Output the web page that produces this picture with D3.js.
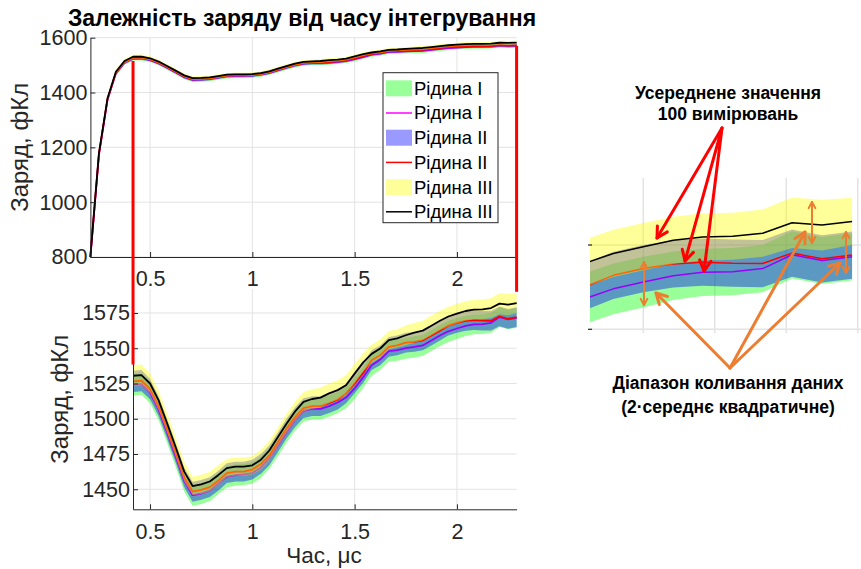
<!DOCTYPE html>
<html>
<head>
<meta charset="utf-8">
<script src="https://cdn.jsdelivr.net/npm/d3@7"></script>
<style>
  body { margin: 0; background: #fff; }
  text { font-family: "Liberation Sans", Arial, sans-serif; }
</style>
</head>
<body>
<script>
const width = 861;
const height = 569;

// integration time, μs
const time = [0.208, 0.250, 0.292, 0.333, 0.375, 0.417, 0.458, 0.500, 0.542, 0.583,
  0.625, 0.667, 0.708, 0.750, 0.792, 0.833, 0.875, 0.917, 0.958, 1.000,
  1.042, 1.083, 1.125, 1.167, 1.208, 1.250, 1.292, 1.333, 1.375, 1.417,
  1.458, 1.500, 1.542, 1.583, 1.625, 1.667, 1.708, 1.750, 1.792, 1.833,
  1.875, 1.917, 1.958, 2.000, 2.042, 2.083, 2.125, 2.167, 2.208, 2.250, 2.292];

// mean charge, fC
const meanI = [800, 1173, 1374, 1470, 1509, 1524, 1524.5, 1518.5, 1506.5, 1490.5,
  1473.5, 1456, 1445.8, 1447, 1449, 1454, 1459, 1460, 1460.5, 1461.5,
  1465.5, 1472, 1481, 1490.5, 1499, 1505.5, 1507, 1507, 1509, 1511.5,
  1515, 1521.5, 1529.5, 1538, 1542, 1548, 1548.6, 1550, 1551, 1552,
  1555.5, 1559, 1562, 1564, 1565.9, 1566.9, 1567.1, 1568, 1572.1, 1570.4, 1571.5];
const meanII = [800, 1175, 1376, 1472, 1511, 1526.5, 1527, 1521, 1509, 1493,
  1476, 1458.5, 1448.3, 1449.5, 1451.5, 1456, 1461.5, 1462.5, 1462.5, 1464,
  1468, 1474, 1483.5, 1493, 1501, 1507.5, 1509, 1509, 1511, 1513.5,
  1518, 1525, 1532.5, 1541.5, 1545, 1551, 1552, 1554, 1554.5, 1555.5,
  1559, 1562.5, 1566, 1568, 1569.4, 1569.9, 1569.6, 1569.5, 1572.6, 1570.9, 1572];
const meanIII = [800, 1178, 1379, 1476, 1515, 1530.5, 1531, 1525, 1513, 1497,
  1480, 1462.5, 1452.3, 1453.5, 1455.5, 1460, 1465, 1466, 1466, 1467,
  1471, 1477.5, 1487, 1496.5, 1505, 1512, 1514, 1515, 1518, 1520.3,
  1523.8, 1532, 1540, 1546, 1549.8, 1555.7, 1557, 1559.2, 1561, 1562.5,
  1566, 1569.5, 1572.5, 1574.5, 1576.4, 1577.4, 1577.6, 1578.5, 1581.6, 1580.9, 1582];

// 2·rms spread, fC
const bandI = [9, 9, 9, 8.5, 8, 7.5, 7.5, 7.5, 7.5, 7.5,
  7.5, 7.5, 7.7, 7.5, 7.5, 7.5, 7.5, 7.5, 7.5, 7.5,
  7.5, 7.5, 7.5, 7.5, 7.5, 7.5, 7.5, 7.5, 7.5, 7.5,
  7.5, 7.5, 7.5, 7.5, 7.5, 7.5, 7.5, 7.5, 7.5, 7.5,
  7.5, 7.5, 7.5, 7.5, 7.2, 7, 7, 7, 7, 7, 7];
const bandII = [9, 9, 9, 8.5, 8, 7.5, 7.5, 7.2, 7, 7,
  7, 7, 7.1, 7, 7, 7, 7, 7, 7, 7,
  7, 7, 7, 7, 7, 7, 7, 7, 7, 7,
  7, 7, 7, 7, 7, 7, 7, 7, 7, 7,
  7, 7, 7, 7, 7, 7, 7, 7, 7, 7, 7];
const bandIII = [9, 9, 9, 8.5, 8, 7.5, 7.5, 7, 7, 7,
  7, 7, 6.6, 6.8, 7, 7, 6.5, 6.5, 6.5, 6.5,
  7, 7, 7, 7, 7, 7, 7, 7, 7, 7,
  7, 7, 6.5, 6.5, 6.5, 6.5, 6.5, 7, 7, 7,
  7, 7, 7, 7, 7, 7, 7, 7, 7.5, 7.5, 7];

const seriesNames = ["Рідина I", "Рідина II", "Рідина III"];
const fillColors = ["#00ff00", "#0000ff", "#ffff00"];
const lineColors = ["#ff00ff", "#ff0000", "#000000"];

const topYTicks = [800, 1000, 1200, 1400, 1600];
const botYTicks = [1450, 1475, 1500, 1525, 1550, 1575];
const xTicks = [0.5, 1, 1.5, 2];

const series = seriesNames.map((name, i) => ({
  name: name,
  mean: [meanI, meanII, meanIII][i],
  band: [bandI, bandII, bandIII][i],
  fill: fillColors[i],
  line: lineColors[i],
}));

let svg = d3
  .select("body")
  .append("svg")
  .attr("width", width)
  .attr("height", height);

const axisColor = "#262626";
const gridColor = "#e3e3e3";

// scales
let xTop = d3.scaleLinear().domain([0.2083, 2.2917]).range([90.4, 516.6]);
let yTop = d3.scaleLinear().domain([800, 1600]).range([257, 37.7]);
let xBot = d3.scaleLinear().domain([0.4167, 2.2917]).range([133, 516.6]);
let yBot = d3.scaleLinear().domain([1435.8, 1592]).range([509.3, 289]);

function rowsFor(s, t0) {
  return time
    .map((t, i) => ({ t: t, m: s.mean[i], b: s.band[i] }))
    .filter((d) => d.t >= t0 - 1e-6);
}

function drawGrid(g, x, y, yTicks) {
  let [x0, x1] = x.range();
  let [y0, y1] = y.range();
  g.selectAll(null)
    .data(yTicks)
    .join("line")
    .attr("x1", x0).attr("x2", x1)
    .attr("y1", (d) => y(d)).attr("y2", (d) => y(d))
    .attr("stroke", gridColor);
  g.selectAll(null)
    .data(xTicks)
    .join("line")
    .attr("x1", (d) => x(d)).attr("x2", (d) => x(d))
    .attr("y1", y0).attr("y2", y1)
    .attr("stroke", gridColor);
}

function drawData(g, x, y, t0, lw) {
  series.forEach((s) => {
    let data = rowsFor(s, t0);
    g.append("path")
      .datum(data)
      .attr("fill", s.fill)
      .attr("fill-opacity", 0.4)
      .attr("d", d3.area().x((d) => x(d.t)).y0((d) => y(d.m - d.b)).y1((d) => y(d.m + d.b)));
    g.append("path")
      .datum(data)
      .attr("fill", "none")
      .attr("stroke", s.line)
      .attr("stroke-width", lw)
      .attr("stroke-linejoin", "round")
      .attr("d", d3.line().x((d) => x(d.t)).y((d) => y(d.m)));
  });
}

function drawAxes(g, x, y, yTicks) {
  let [y0] = y.range();
  let [x0] = x.range();
  let bottomAxis = d3.axisBottom(x).tickValues(xTicks).tickFormat((d) => String(d))
    .tickSizeInner(-5).tickSizeOuter(0).tickPadding(14);
  let leftAxis = d3.axisLeft(y).tickValues(yTicks).tickFormat((d) => String(d))
    .tickSizeInner(-5).tickSizeOuter(0).tickPadding(3);
  let bx = g.append("g").attr("transform", `translate(0, ${y0})`).call(bottomAxis);
  let ly = g.append("g").attr("transform", `translate(${x0}, 0)`).call(leftAxis);
  [bx, ly].forEach((a) => {
    a.select(".domain").attr("stroke", axisColor);
    a.selectAll(".tick line").attr("stroke", axisColor);
    a.selectAll(".tick text")
      .attr("fill", axisColor)
      .style("font-size", "21.5px")
      .style("font-family", '"Liberation Sans", Arial, sans-serif');
  });
}

// ---------- top panel ----------
let topG = svg.append("g");
drawGrid(topG, xTop, yTop, topYTicks);
drawData(topG, xTop, yTop, 0, 1.8);
drawAxes(topG, xTop, yTop, topYTicks);

// ---------- bottom panel ----------
svg.append("clipPath").attr("id", "botClip")
  .append("rect").attr("x", 133).attr("y", 289).attr("width", 384).attr("height", 221);
let botG = svg.append("g");
drawGrid(botG, xBot, yBot, botYTicks);
drawData(botG.append("g").attr("clip-path", "url(#botClip)"), xBot, yBot, 0.4167, 1.8);
drawAxes(botG, xBot, yBot, botYTicks);

// title & labels
svg.append("text")
  .attr("x", 302).attr("y", 26)
  .attr("text-anchor", "middle")
  .style("font-size", "23px").style("font-weight", "bold")
  .text("Залежність заряду від часу інтегрування");

svg.append("text")
  .attr("transform", `translate(28, ${(37.7 + 257) / 2}) rotate(-90)`)
  .attr("text-anchor", "middle")
  .attr("fill", axisColor)
  .style("font-size", "24px")
  .text("Заряд, фКл");

svg.append("text")
  .attr("transform", `translate(68, ${(289 + 509.3) / 2}) rotate(-90)`)
  .attr("text-anchor", "middle")
  .attr("fill", axisColor)
  .style("font-size", "24px")
  .text("Заряд, фКл");

svg.append("text")
  .attr("x", 324).attr("y", 563)
  .attr("text-anchor", "middle")
  .attr("fill", axisColor)
  .style("font-size", "22.5px")
  .text("Час, μс");

// legend
let legend = svg.append("g").attr("transform", "translate(383, 72.7)");
legend.append("rect")
  .attr("width", 115).attr("height", 150)
  .attr("fill", "#fff").attr("stroke", axisColor).attr("stroke-width", 1);
let legendItems = [];
series.forEach((s) => {
  legendItems.push({ kind: "patch", s: s });
  legendItems.push({ kind: "line", s: s });
});
legendItems.forEach((it, i) => {
  let cy = 15.6 + i * 24.7;
  if (it.kind === "patch") {
    legend.append("rect")
      .attr("x", 3).attr("y", cy - 8).attr("width", 26).attr("height", 16)
      .attr("fill", it.s.fill).attr("fill-opacity", 0.4);
  } else {
    legend.append("line")
      .attr("x1", 3).attr("x2", 29).attr("y1", cy).attr("y2", cy)
      .attr("stroke", it.s.line).attr("stroke-width", 1.5);
  }
  legend.append("text")
    .attr("x", 31).attr("y", cy + 6.5)
    .style("font-size", "18.5px")
    .text(it.s.name);
});

// zoom connector lines
const connectT = [0.4167, 2.2917];
const connectFrom = [1515, 1570];
const connectTo = [1538.5, 1590];
svg.selectAll(null)
  .data(connectT)
  .join("line")
  .attr("x1", (d) => xTop(d)).attr("x2", (d) => xTop(d))
  .attr("y1", (d, i) => yTop(connectFrom[i]))
  .attr("y2", (d, i) => yBot(connectTo[i]))
  .attr("stroke", "#ff0000")
  .attr("stroke-width", 3);

// ---------- inset (magnified view) ----------
let xIn = d3.scaleLinear().domain([2.0, 2.1]).range([643.3, 714.8]);
let yIn = d3.scaleLinear().domain([1550, 1575]).range([329.3, 245]);
svg.append("clipPath").attr("id", "inClip")
  .append("rect").attr("x", 590).attr("y", 178).attr("width", 271).attr("height", 155);
let inG = svg.append("g").attr("clip-path", "url(#inClip)");
const inXTicks = [2.0, 2.1, 2.2, 2.3];
inG.selectAll(null).data(inXTicks).join("line")
  .attr("x1", (d) => xIn(d)).attr("x2", (d) => xIn(d))
  .attr("y1", 178).attr("y2", 333)
  .attr("stroke", gridColor).attr("stroke-width", 1.5);
inG.selectAll(null).data([1550, 1575]).join("line")
  .attr("x1", 590).attr("x2", 861)
  .attr("y1", (d) => yIn(d)).attr("y2", (d) => yIn(d))
  .attr("stroke", gridColor).attr("stroke-width", 1.5);
drawData(inG, xIn, yIn, 1.85, 1.5);
svg.selectAll(null).data([1550, 1575]).join("line")
  .attr("x1", 588).attr("x2", 592)
  .attr("y1", (d) => yIn(d)).attr("y2", (d) => yIn(d))
  .attr("stroke", axisColor).attr("stroke-width", 1.2);

// arrows
function arrow(g, x1, y1, x2, y2, color, w, head, both) {
  g.append("line")
    .attr("x1", x1).attr("y1", y1).attr("x2", x2).attr("y2", y2)
    .attr("stroke", color).attr("stroke-width", w).attr("stroke-linecap", "round");
  let tips = both ? [[x2, y2, x1, y1], [x1, y1, x2, y2]] : [[x2, y2, x1, y1]];
  tips.forEach(([tx, ty, fx, fy]) => {
    let a = Math.atan2(ty - fy, tx - fx);
    let p1 = [tx - head * Math.cos(a - 0.5), ty - head * Math.sin(a - 0.5)];
    let p2 = [tx - head * Math.cos(a + 0.5), ty - head * Math.sin(a + 0.5)];
    g.append("path")
      .attr("d", `M${p1[0]},${p1[1]}L${tx},${ty}L${p2[0]},${p2[1]}`)
      .attr("fill", "none").attr("stroke", color).attr("stroke-width", w)
      .attr("stroke-linecap", "round").attr("stroke-linejoin", "round");
  });
}

const orange = "#ed7d31";
let ann = svg.append("g");
[[657, 238], [685, 261], [704, 271]].forEach(([x, y]) =>
  arrow(ann, 722, 128, x, y, "#ff0000", 3, 12, false));
[[656, 293], [805, 232], [840, 263]].forEach(([x, y]) =>
  arrow(ann, 730, 368, x, y, orange, 3, 12, false));
[[644, 262, 305], [812, 202, 243], [846, 232, 273]].forEach(([x, ya, yb]) =>
  arrow(ann, x, ya, x, yb, orange, 2, 7, true));

const annText = [
  ["Усереднене значення", 99],
  ["100 вимірювань", 120],
  ["Діапазон коливання даних", 389],
  ["(2·середнє квадратичне)", 413],
];
ann.selectAll(null).data(annText).join("text")
  .attr("x", 728).attr("y", (d) => d[1])
  .attr("text-anchor", "middle")
  .style("font-size", "17.5px").style("font-weight", "bold")
  .text((d) => d[0]);
</script>
</body>
</html>
